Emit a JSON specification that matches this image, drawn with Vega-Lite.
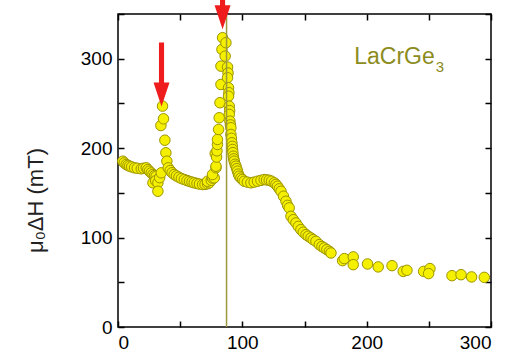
{
 "$schema": "https://vega.github.io/schema/vega-lite/v6.json",
 "width": 373, "height": 313,
 "autosize": {"type": "none"},
 "padding": {"left": 118, "top": 14, "right": 16, "bottom": 33},
 "background": "white",
 "config": {
  "view": {"stroke": "#000", "strokeWidth": 1.5},
  "font": "Liberation Sans",
  "axis": {"domain": false, "grid": false, "tickColor": "#000", "tickWidth": 1.5, "tickSize": -6,
   "labelFont": "Liberation Sans", "labelFontSize": 19, "labelColor": "#000",
   "titleFont": "Liberation Sans", "titleFontSize": 22, "titleFontWeight": "normal", "titleColor": "#222"}
 },
 "datasets": {
  "pts": [
   {"x":3.9,"y":185.4},{"x":5,"y":183.5},{"x":6.6,"y":181.7},{"x":8,"y":180.8},{"x":9.3,"y":179.8},{"x":11,"y":179},{"x":13.3,"y":178},{"x":15.5,"y":177.5},{"x":18.7,"y":176.9},{"x":20.5,"y":177.5},{"x":22.7,"y":178},{"x":24,"y":176},{"x":25.3,"y":174.2},{"x":26.7,"y":172.3},{"x":28.1,"y":170.5},{"x":29.4,"y":169.3},{"x":30.7,"y":168.6},{"x":28.1,"y":161.2},{"x":30.3,"y":163.5},{"x":32.1,"y":161.2},{"x":32.1,"y":151.8},{"x":33.5,"y":167},{"x":34.8,"y":172.4},
   {"x":34.5,"y":225.3},{"x":35.8,"y":247},{"x":36.6,"y":232.8},{"x":37.7,"y":208.9},{"x":38.5,"y":194.8},{"x":39.3,"y":185.4},{"x":40.4,"y":178},{"x":42,"y":175},{"x":43.5,"y":172.5},{"x":45.2,"y":170.5},{"x":47,"y":169},{"x":49,"y":167.5},{"x":51,"y":166},{"x":53.3,"y":164.9},{"x":55.5,"y":163.8},{"x":57.5,"y":162.8},{"x":59.5,"y":162},{"x":61.3,"y":161.2},{"x":63.5,"y":160.5},{"x":65.5,"y":159.8},{"x":68,"y":159.3},{"x":70,"y":159.5},{"x":72,"y":160.2},{"x":73.4,"y":161.2},{"x":72,"y":163},{"x":75,"y":164},{"x":76,"y":166.5},{"x":77.4,"y":166.8},{"x":76,"y":170.5},{"x":78.8,"y":178},{"x":78.8,"y":179.8},{"x":78.2,"y":194},{"x":79.3,"y":190},{"x":79.6,"y":197},{"x":80,"y":204.1},{"x":80,"y":209.7},{"x":80.9,"y":220.9},{"x":81.4,"y":234},{"x":82,"y":250.8},{"x":82.8,"y":271.2},{"x":82.8,"y":291.7},{"x":83.6,"y":310.4},{"x":84.1,"y":323.5},{"x":86.8,"y":317.9},{"x":86.2,"y":302.9},{"x":88.1,"y":290.6},{"x":88.5,"y":284},{"x":88.1,"y":278.7},{"x":88.9,"y":267.5},{"x":89.2,"y":262},{"x":88.9,"y":258.1},{"x":89.5,"y":246.9},{"x":89.8,"y":242},{"x":89.5,"y":237.7},{"x":90,"y":230.2},{"x":90.4,"y":226},{"x":90.8,"y":222.8},{"x":90.8,"y":215.3},{"x":91.2,"y":211},{"x":91.6,"y":206},{"x":91.9,"y":202},{"x":92.1,"y":198.5},{"x":92.4,"y":195},{"x":92.7,"y":191},{"x":93.1,"y":188},{"x":93.5,"y":185.4},{"x":94.2,"y":182},{"x":94.9,"y":179.8},{"x":95.5,"y":177},{"x":96.1,"y":174.2},{"x":96.8,"y":171},{"x":97.5,"y":168.6},{"x":98.8,"y":166.5},{"x":100.2,"y":164.9},{"x":101.5,"y":163},{"x":104,"y":162},{"x":106.9,"y":161.2},{"x":109.5,"y":162},{"x":112.2,"y":163},{"x":115,"y":164},{"x":117.6,"y":164.9},{"x":119.5,"y":164.5},{"x":121.6,"y":164.1},{"x":123.5,"y":163},{"x":125.7,"y":161.2},{"x":127,"y":159.5},{"x":128.3,"y":157.4},{"x":129.7,"y":154.5},{"x":131.1,"y":151.8},{"x":133.1,"y":146.2},{"x":135.1,"y":140.6},{"x":136.4,"y":136},{"x":137.7,"y":133.2},{"x":139.1,"y":123.8},{"x":141,"y":120},{"x":143.1,"y":116.4},{"x":145,"y":112.5},{"x":147.1,"y":108.9},{"x":149,"y":106},{"x":151.2,"y":103.3},{"x":153,"y":101.5},{"x":155.2,"y":99.6},{"x":157,"y":97.7},{"x":159.2,"y":95.8},{"x":161.9,"y":92.1},{"x":164,"y":90},{"x":165.9,"y":88.4},{"x":168,"y":86.5},{"x":170,"y":84.6},{"x":171.3,"y":82.8},{"x":180.6,"y":74.2},{"x":182,"y":76.5},{"x":189.2,"y":78.4},{"x":189.2,"y":69.7},{"x":200.7,"y":70.5},{"x":209.3,"y":67.2},{"x":220.4,"y":68.6},{"x":229.4,"y":62.2},{"x":232.4,"y":63.4},{"x":245.8,"y":62.2},{"x":250.9,"y":65.3},{"x":249.8,"y":59.7},{"x":268.6,"y":57.4},{"x":275.9,"y":58.5},{"x":284.4,"y":56},{"x":294.6,"y":55.5}
  ],
  "arrows": [{"x": 35, "y": 282.4}, {"x": 84.1, "y": 368.6}],
  "label": [{"x": 190, "y": 293.6, "text": "LaCrGe"}],
  "sub": [{"x": 255.5, "y": 285.7, "text": "3"}]
 },
 "layer": [
  {
   "data": {"name": "pts"},
   "mark": {"type": "circle", "size": 110, "fill": "#f5f000", "stroke": "#9c9400", "strokeWidth": 1, "opacity": 1},
   "encoding": {
    "x": {"field": "x", "type": "quantitative", "scale": {"domain": [0, 300], "nice": false},
     "axis": {"values": [0,50,100,150,200,250,300], "labelExpr": "datum.value % 100 === 0 ? datum.label : ''", "title": null, "labelPadding": 12}},
    "y": {"field": "y", "type": "quantitative", "scale": {"domain": [0, 350], "nice": false},
     "axis": {"values": [0,50,100,150,200,250,300,350], "labelExpr": "datum.value % 100 === 0 && datum.value < 350 ? datum.label : ''", "title": "μ₀ΔH (mT)", "labelPadding": 12, "titleX": -83, "titleY": 186, "titleBaseline": "middle", "titleAlign": "center", "titleAngle": -90}}
   }
  },
  {
   "data": {"values": [{}]},
   "mark": {"type": "rule", "color": "#9c9a3c", "strokeWidth": 1.5},
   "encoding": {
    "x": {"datum": 87.3, "type": "quantitative", "axis": {"orient": "top", "values": [0,50,100,150,200,250,300], "labels": false, "title": null}},
    "y": {"datum": 0, "type": "quantitative", "axis": {"orient": "right", "values": [0,50,100,150,200,250,300,350], "labels": false, "title": null}},
    "y2": {"datum": 350}
   }
  },
  {
   "data": {"name": "arrows"},
   "mark": {"type": "point", "shape": "M-0.08,-1L0.08,-1L0.08,0.25L0.25,0.25L0,1L-0.25,0.25L-0.08,0.25Z", "size": 4096, "filled": true, "color": "#ee1c1c", "opacity": 1, "clip": false, "strokeWidth": 0},
   "encoding": {
    "x": {"field": "x", "type": "quantitative", "axis": null},
    "y": {"field": "y", "type": "quantitative", "axis": null}
   }
  },
  {
   "data": {"name": "label"},
   "mark": {"type": "text", "align": "left", "baseline": "alphabetic", "fontSize": 23, "color": "#8c8c1e", "font": "Liberation Sans"},
   "encoding": {
    "x": {"field": "x", "type": "quantitative", "axis": null},
    "y": {"field": "y", "type": "quantitative", "axis": null},
    "text": {"field": "text"}
   }
  },
  {
   "data": {"name": "sub"},
   "mark": {"type": "text", "align": "left", "baseline": "alphabetic", "fontSize": 15, "color": "#8c8c1e", "font": "Liberation Sans"},
   "encoding": {
    "x": {"field": "x", "type": "quantitative", "axis": null},
    "y": {"field": "y", "type": "quantitative", "axis": null},
    "text": {"field": "text"}
   }
  }
 ],
 "resolve": {"axis": {"x": "independent", "y": "independent"}}
}
